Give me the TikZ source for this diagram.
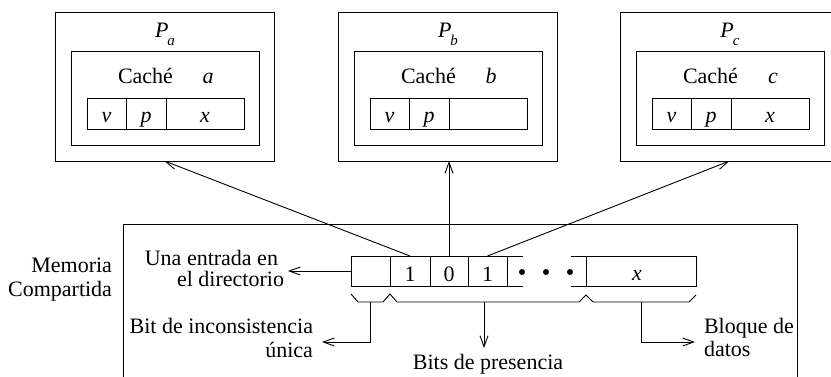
\documentclass[tikz,border=0pt]{standalone}
\usepackage{fontspec}
\setmainfont{Liberation Serif}
\usetikzlibrary{arrows.meta}
\tikzset{
  box/.style={draw, line width=0.9pt, inner sep=0pt, outer sep=0pt},
  lbl/.style={font=\fontsize{22}{26}\selectfont, inner sep=0pt, outer sep=0pt},
  arr/.style={line width=0.9pt, -{Straight Barb[length=11pt,width=8pt]}},
  ln/.style={line width=0.9pt},
}
\begin{document}
\begin{tikzpicture}[x=1pt, y=-1pt]
\useasboundingbox (0,0) rectangle (831,376);
\clip (0,0) rectangle (831,376);
% processors
\foreach \n/\dx/\xl in {a/0/x, b/283/, c/565/x}{
  \begin{scope}[xshift=\dx pt]
    \node[box, minimum width=219pt, minimum height=149pt] (P\n) at (164.5,86.5) {};
    \node[box, minimum width=188pt, minimum height=94pt] (C\n) at (165,98) {};
    \node[box, minimum width=39pt, minimum height=31pt] (v\n) at (106.5,113.5) {};
    \node[box, minimum width=40pt, minimum height=31pt] (p\n) at (146,113.5) {};
    \node[box, minimum width=78pt, minimum height=31pt] (x\n) at (205,113.5) {};
    \node[lbl, anchor=base] (Pl\n) at (165,37) {\textit{P}\kern-1pt\raisebox{-8pt}{\fontsize{15}{15}\selectfont\textit{\n}}};
    \node[lbl, anchor=base west] (Cl\n) at (118,83) {Caché};
    \node[lbl, anchor=base] (Cn\n) at (208,83) {\textit{\n}};
    \node[lbl, anchor=base] (vl\n) at (106.5,122) {\textit{v}};
    \node[lbl, anchor=base] (pl\n) at (146,122) {\textit{p}};
    \node[lbl, anchor=base] (xl\n) at (205,122) {\textit{\xl}};
  \end{scope}
}
% memory
\node[box, minimum width=674pt, minimum height=170pt] (mem) at (460,309) {};
\node[lbl, anchor=base east] (mem1) at (112,272) {Memoria};
\node[lbl, anchor=base east] (mem2) at (112,296) {Compartida};
% directory entry
\node[box, minimum width=39pt, minimum height=30pt] (d0) at (370.5,271) {};
\node[box, minimum width=40pt, minimum height=30pt] (d1) at (410,271) {};
\node[box, minimum width=38pt, minimum height=30pt] (d2) at (449,271) {};
\node[box, minimum width=39pt, minimum height=30pt] (d3) at (487.5,271) {};
\node[lbl, anchor=base] (d1l) at (410,281) {1};
\node[lbl, anchor=base] (d2l) at (449,281) {0};
\node[lbl, anchor=base] (d3l) at (487.5,281) {1};
\draw[ln] (d3.north east) -- ++(16,0);
\draw[ln] (d3.south east) -- ++(16,0);
\fill (522,272) circle (3pt);
\fill (546,272) circle (3pt);
\fill (570,272) circle (3pt);
\node[box, minimum width=110pt, minimum height=30pt] (dx) at (641,271) {};
\draw[ln] (dx.north west) -- ++(-15,0);
\draw[ln] (dx.south west) -- ++(-15,0);
\node[lbl, anchor=base] (dxl) at (637,280) {\textit{x}};
% braces
\draw[ln] (351,294) -- (358,302) -- (383,302) -- (390,294) -- (397,302) -- (579,302) -- (586,295) -- (593,302) -- (689,302) -- (696,295);
% una entrada
\coordinate (unat) at (288,271);
\draw[arr] (d0.west) -- (unat);
\node[lbl, anchor=base east] (una1) at (278,265) {Una entrada en};
\node[lbl, anchor=base east] (una2) at (284,286) {el directorio};
% bit de inconsistencia
\coordinate (b1) at (370,302);
\coordinate (b1e) at (370,342);
\coordinate (b1t) at (322,342);
\draw[arr] (b1) -- (b1e) -- (b1t);
\node[lbl, anchor=base east] (bit1) at (313,333) {Bit de inconsistencia};
\node[lbl, anchor=base east] (bit2) at (313,357) {única};
% bits de presencia
\coordinate (b2) at (484,302);
\coordinate (b2t) at (484,348);
\draw[arr] (b2) -- (b2t);
\node[lbl, anchor=base] (pres) at (488,369) {Bits de presencia};
% bloque de datos
\coordinate (b3) at (641,302);
\coordinate (b3e) at (641,342);
\coordinate (b3t) at (695,342);
\draw[arr] (b3) -- (b3e) -- (b3t);
\node[lbl, anchor=base west] (blq1) at (704,333) {Bloque de};
\node[lbl, anchor=base west] (blq2) at (704,356) {datos};
% arrows to processors
\draw[arr] (d1.north) -- (Pa.south);
\draw[arr] (d2.north) -- (d2.north |- Pb.south);
\draw[arr] (d3.north) -- (Pc.south);
\end{tikzpicture}
\end{document}
